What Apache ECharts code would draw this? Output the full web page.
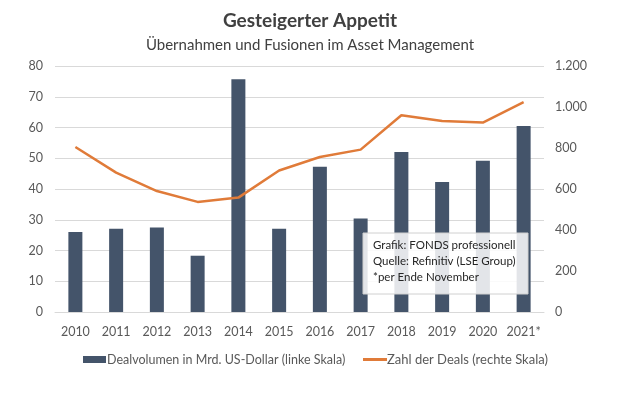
<!DOCTYPE html>
<html><head><meta charset="utf-8">
<script src="https://cdn.jsdelivr.net/npm/echarts@6/dist/echarts.min.js"></script>
<style>html,body{margin:0;padding:0;background:#fff}#c{width:620px;height:413px}</style>
</head><body><div id="c"></div>
<script>
const categories = ['2010','2011','2012','2013','2014','2015','2016','2017','2018','2019','2020','2021*'];
const dealVolume = [26.0, 27.1, 27.5, 18.3, 75.7, 27.1, 47.2, 30.4, 52.0, 42.3, 49.2, 60.5];
const dealCount = [805, 680, 590, 537, 558, 690, 756, 792, 960, 932, 924, 1024];
const leftTicks = [0, 80, 10];
const rightTicks = [0, 1200, 200];
const FONT = 'Lato, sans-serif';
const chart = echarts.init(document.getElementById('c'), null, {renderer:'canvas'});
chart.setOption({
  animation:false,
  backgroundColor:'#fff',
  title:[
    {text:'Gesteigerter Appetit', left:'center', top:6, textStyle:{fontFamily:FONT, fontSize:19, fontWeight:'bold', color:'#404040'}},
    {text:'Übernahmen und Fusionen im Asset Management', left:'center', top:33, textStyle:{fontFamily:FONT, fontSize:15, fontWeight:'normal', color:'#404040'}}
  ],
  grid:{left:55, right:76, top:66, bottom:101},
  legend:[
    {left:78, top:348, itemWidth:23, itemHeight:7,
     textStyle:{fontFamily:FONT, fontSize:12.5, color:'#595959', padding:[0,0,0,-4]},
     data:[{name:'Dealvolumen in Mrd. US-Dollar (linke Skala)', icon:'rect'}]},
    {left:358, top:348, itemWidth:24, itemHeight:3,
     textStyle:{fontFamily:FONT, fontSize:13, color:'#595959', padding:[0,0,0,-5]},
     data:[{name:'Zahl der Deals (rechte Skala)', icon:'rect'}]}
  ],
  xAxis:{type:'category', data:categories, axisTick:{show:false}, axisLine:{lineStyle:{color:'#d9d9d9'}},
    axisLabel:{fontFamily:FONT, fontSize:12.5, color:'#595959', margin:13, interval:0}},
  yAxis:[
    {type:'value', min:leftTicks[0], max:leftTicks[1], interval:leftTicks[2], position:'left',
     axisLabel:{fontFamily:FONT, fontSize:12.5, color:'#595959', margin:12},
     splitLine:{lineStyle:{color:'#d9d9d9', width:1}}, axisLine:{show:false}, axisTick:{show:false}},
    {type:'value', min:rightTicks[0], max:rightTicks[1], interval:rightTicks[2], position:'right',
     axisLabel:{fontFamily:FONT, fontSize:12.5, color:'#595959', margin:11,
       formatter:v=>String(v).replace(/\B(?=(\d{3})+(?!\d))/g,'.')},
     splitLine:{show:false}, axisLine:{show:false}, axisTick:{show:false}}
  ],
  series:[
    {name:'Dealvolumen in Mrd. US-Dollar (linke Skala)', type:'bar', data:dealVolume, yAxisIndex:0, barWidth:14,
     itemStyle:{color:'#44546a'}},
    {name:'Zahl der Deals (rechte Skala)', type:'line', data:dealCount, yAxisIndex:1, symbol:'none',
     lineStyle:{color:'#e07b39', width:2.5}, itemStyle:{color:'#e07b39'}}
  ],
  graphic:[
    {type:'rect', shape:{x:363, y:233, width:165, height:61}, style:{fill:'rgba(255,255,255,0.85)', stroke:'#d0d0d0', lineWidth:1}, z:100},
    {type:'text', x:373, y:237, z:101, style:{text:'Grafik: FONDS professionell\nQuelle: Refinitiv (LSE Group)\n*per Ende November', font:'11.5px Lato, sans-serif', fill:'#262626', lineHeight:16}}
  ]
});
</script></body></html>
